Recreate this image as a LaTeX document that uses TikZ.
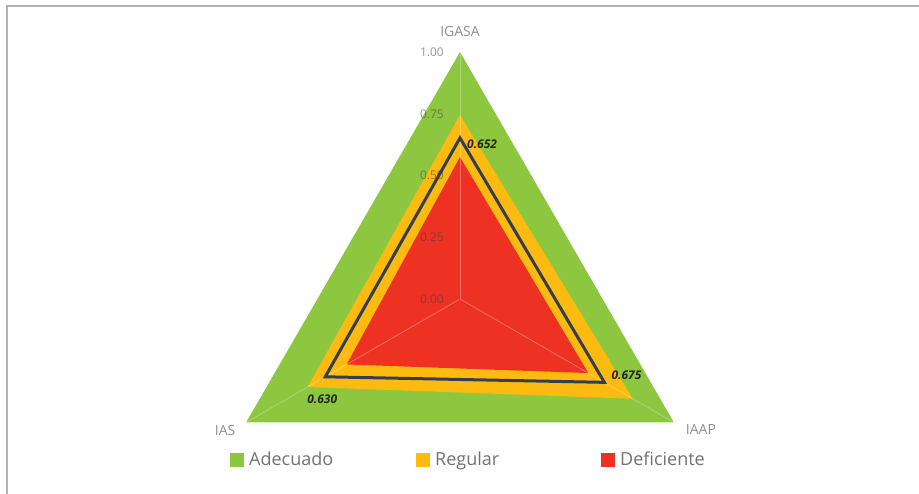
\documentclass[tikz,border=0pt]{standalone}
\usepackage{fontspec}
\setmainfont{Open Sans}
\usetikzlibrary{positioning}

\definecolor{adecuado}{RGB}{141,198,63}
\definecolor{regular}{RGB}{253,187,18}
\definecolor{deficiente}{RGB}{237,50,36}
\definecolor{linea}{RGB}{52,62,78}
\definecolor{texto}{RGB}{112,112,118}
\definecolor{marco}{RGB}{178,178,178}

\begin{document}
\begin{tikzpicture}[x=1pt, y=1pt,
  eje/.style={white, opacity=0.28, line width=0.8pt},
  marca/.style={anchor=east, inner sep=0pt, text=black!75, text opacity=0.55,
    font=\fontsize{12}{12}\selectfont},
  nombre/.style={inner sep=0pt, text=texto!80, font=\fontsize{14}{14}\selectfont},
  valor/.style={inner sep=0pt, text=black!85, font=\fontsize{12}{12}\selectfont\bfseries\itshape},
  cuadro/.style={minimum size=14pt, inner sep=0pt},
  leyenda/.style={anchor=base west, inner sep=0pt, text=texto, font=\fontsize{18}{18}\selectfont}]
  \useasboundingbox (0,0) rectangle (919,494);

  % Draw the frame (top and left only)
  \draw[marco, line width=1.8pt] (7,0) -- (7,488) -- (919,488);

  % Centre and radius of the chart
  \coordinate (c) at (460,195);
  \def\R{247}

  \begin{scope}[shift={(c)}]
    % Vertices of the three axes
    \coordinate (igasa) at (90:\R);
    \coordinate (ias) at (210:\R);
    \coordinate (iaap) at (330:\R);

    % Bands: adecuado, regular, deficiente
    \fill[adecuado] (igasa) -- (ias) -- (iaap) -- cycle;
    \fill[regular] (90:{0.745*\R}) -- (210:{0.713*\R}) -- (330:{0.808*\R}) -- cycle;
    \fill[deficiente] (90:{0.575*\R}) -- (210:{0.530*\R}) -- (330:{0.600*\R}) -- cycle;

    % Axes from the centre
    \draw[eje] (0,0) -- (igasa);
    \draw[eje] (0,0) -- (ias);
    \draw[eje] (0,0) -- (iaap);

    % Scale on the vertical axis
    \foreach \v/\t in {0/0.00, 0.25/0.25, 0.5/0.50, 0.75/0.75, 1/1.00}
      \node[marca] at (-16,{\v*\R}) {\t};

    % Data line
    \coordinate (d1) at (90:{0.652*\R});
    \coordinate (d2) at (210:{0.630*\R});
    \coordinate (d3) at (330:{0.675*\R});
    \draw[linea, line width=3pt, line join=miter] (d1) -- (d2) -- (d3) -- cycle;

    % Values
    \node[valor, anchor=west] (v1) at ([xshift=7pt, yshift=-6pt]d1) {0.652};
    \node[valor] (v2) at ([xshift=-3pt, yshift=-22pt]d2) {0.630};
    \node[valor, anchor=west] (v3) at ([xshift=7pt, yshift=7pt]d3) {0.675};

    % Axis names
    \node[nombre, above=15pt of igasa] (ligasa) {IGASA};
    \node[nombre] (lias) at ([xshift=-21pt, yshift=-8pt]ias) {IAS};
    \node[nombre] (liaap) at ([xshift=27pt, yshift=-7pt]iaap) {IAAP};
  \end{scope}

  % Legend
  \node[cuadro, fill=adecuado] (ca) at (237,34) {};
  \node[leyenda] (ta) at (249,28) {Adecuado};
  \node[cuadro, fill=regular] (cr) at (423,34) {};
  \node[leyenda] (tr) at (435,28) {Regular};
  \node[cuadro, fill=deficiente] (cd) at (608,34) {};
  \node[leyenda] (td) at (620,28) {Deficiente};
\end{tikzpicture}
\end{document}
